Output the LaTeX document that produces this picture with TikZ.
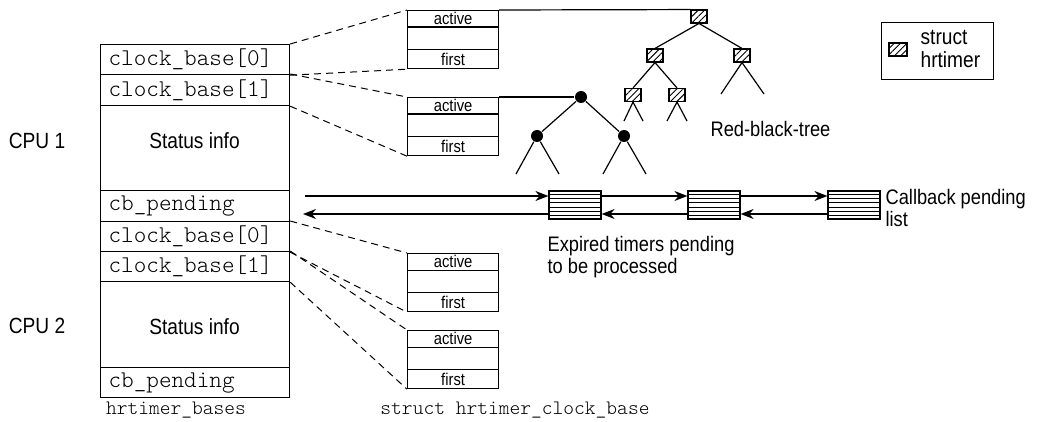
\documentclass[tikz,border=0pt]{standalone}
\usepackage{fontspec}
\setmainfont{Liberation Sans}[FakeStretch=0.87]
\setmonofont{Latin Modern Mono Light}
\usetikzlibrary{arrows.meta,patterns.meta,calc}
\begin{document}
\begin{tikzpicture}[x=1pt,y=-1pt,line width=1.2pt,
  cell/.style={draw,anchor=north west,inner ysep=0pt,inner xsep=8pt,text width=173pt,align=left,font=\ttfamily\fontsize{24}{26}\selectfont},
  sbox/.style={draw,anchor=north west,inner sep=0pt,minimum width=91pt,font=\fontsize{17}{18}\selectfont},
  hsq/.style={draw,line width=1.1pt,inner sep=0pt,minimum width=16pt,minimum height=13pt,pattern={Lines[angle=45,distance=4.5pt,line width=0.9pt]}},
  bdot/.style={circle,fill=black,inner sep=0pt,minimum size=12pt},
  lbox/.style={draw,inner sep=0pt,minimum width=52pt,minimum height=28pt},
  lab/.style={font=\fontsize{21}{22}\selectfont,align=left,inner sep=0pt},
  big/.style={font=\fontsize{22}{24}\selectfont,inner sep=0pt},
  mlab/.style={font=\ttfamily\fontsize{20.5}{22}\selectfont,inner sep=0pt},
  dsh/.style={line width=1pt,dash pattern=on 7pt off 5pt},
  arr/.style={-{Stealth[length=13pt,width=10pt]},line width=1.3pt},
  edge/.style={line width=1.2pt}]
\useasboundingbox (0,0) rectangle (1038,422);

% left column
\node[cell,minimum height=30pt] (r1) at (100,44) {clock\_base[0]};
\node[cell,minimum height=31pt] (r2) at (100,74) {clock\_base[1]};
\node[cell,minimum height=85pt] (r3) at (100,105) {};
\node[cell,minimum height=31pt] (r4) at (100,190) {cb\_pending};
\node[cell,minimum height=30pt] (r5) at (100,221) {clock\_base[0]};
\node[cell,minimum height=30pt] (r6) at (100,251) {clock\_base[1]};
\node[cell,minimum height=86pt] (r7) at (100,281) {};
\node[cell,minimum height=30pt] (r8) at (100,367) {cb\_pending};
\node[big] (s1) at (194.5,141) {Status info};
\node[big] (s2) at (194.5,326.5) {Status info};
\node[big] (cpu1) at (37,141) {CPU 1};
\node[big] (cpu2) at (37,326) {CPU 2};
\node[mlab] (hb) at (176,410) {hrtimer\_bases};
\node[mlab] (hcb) at (515,410) {struct hrtimer\_clock\_base};

% clock base boxes
\foreach \n/\t in {1/10,2/97,3/253,4/330}{
  \node[sbox,minimum height=16.5pt] (b\n a) at (407,\t) {active};
  \node[sbox,minimum height=22.5pt] (b\n m) at (407,\t+16.5) {};
  \node[sbox,minimum height=19pt] (b\n f) at (407,\t+39) {first};
}

% dashed connectors
\draw[dsh] (r1.north east) -- (b1a.north west);
\draw[dsh] (r1.south east) -- (b1f.south west);
\draw[dsh] (r2.north east) -- (b2a.north west);
\draw[dsh] (r2.south east) -- (b2f.south west);
\draw[dsh] (r5.north east) -- (b3a.north west);
\draw[dsh] (r5.south east) -- (b3f.south west);
\draw[dsh] (r6.north east) -- (b4a.north west);
\draw[dsh] (r6.south east) -- (b4f.south west);

% hatched tree
\node[hsq] (h0) at (699,16.5) {};
\node[hsq] (h1) at (655,55.5) {};
\node[hsq] (h2) at (742,55.5) {};
\node[hsq] (h3) at (633,95) {};
\node[hsq] (h4) at (677,95) {};
\draw[edge] (b1a.north east) -- (h0.north west);
\draw[edge] (h0.south) -- (h1.north);
\draw[edge] (h0.south) -- (h2.north);
\draw[edge] (h1.south) -- (h3.north);
\draw[edge] (h1.south) -- (h4.north);
\coordinate (h2l) at (721,94); \coordinate (h2r) at (764,94);
\coordinate (h3l) at (624,121); \coordinate (h3r) at (643,121);
\coordinate (h4l) at (667,121); \coordinate (h4r) at (687,121);
\draw[edge] (h2l) -- (h2.south) -- (h2r);
\draw[edge] (h3l) -- (h3.south) -- (h3r);
\draw[edge] (h4l) -- (h4.south) -- (h4r);

% black tree
\node[bdot] (k0) at (581,97) {};
\node[bdot] (k1) at (537,136) {};
\node[bdot] (k2) at (624,136) {};
\draw[edge] (b2a.north east) -- (k0);
\draw[edge] (k0) -- (k1);
\draw[edge] (k0) -- (k2);
\coordinate (k1l) at (516,174); \coordinate (k1r) at (559,174);
\coordinate (k2l) at (603,174); \coordinate (k2r) at (646,174);
\draw[edge] (k1) -- (k1l); \draw[edge] (k1) -- (k1r);
\draw[edge] (k2) -- (k2l); \draw[edge] (k2) -- (k2r);
\node[lab,anchor=west] (rbt) at (710,129) {Red-black-tree};

% legend
\node[draw,line width=1.1pt,anchor=north west,minimum width=112pt,minimum height=57pt,inner sep=0pt] (leg) at (881,22) {};
\node[hsq,minimum width=18pt] (legsq) at (898,49.5) {};
\node[font=\fontsize{22}{23}\selectfont,align=left,inner sep=0pt,anchor=west] (legt) at (920,49) {struct\\hrtimer};

% callback list
\node[lbox] (A) at (575,205) {};
\node[lbox] (B) at (714,205) {};
\node[lbox] (C) at (854,205) {};
\foreach \b in {A,B,C}{
  \foreach \i in {1,...,6}{
    \draw[line width=0.9pt] ($(\b.north west)!\i/7!(\b.south west)$) -- ($(\b.north east)!\i/7!(\b.south east)$);
  }
}
\coordinate (u0) at (305,196);
\coordinate (l0) at (303,214);
\draw[arr] (u0) -- (u0 -| A.west);
\draw[arr] ([yshift=9pt]A.east) -- ([yshift=9pt]B.west);
\draw[arr] ([yshift=9pt]B.east) -- ([yshift=9pt]C.west);
\draw[arr] ([yshift=-9pt]A.west) -- (l0);
\draw[arr] ([yshift=-9pt]B.west) -- ([yshift=-9pt]A.east);
\draw[arr] ([yshift=-9pt]C.west) -- ([yshift=-9pt]B.east);
\node[lab,anchor=west] (cbl) at (885,207.5) {Callback pending\\list};
\node[lab,anchor=west] (exp) at (547,257) {Expired timers pending\\to be processed};
\end{tikzpicture}
\end{document}
